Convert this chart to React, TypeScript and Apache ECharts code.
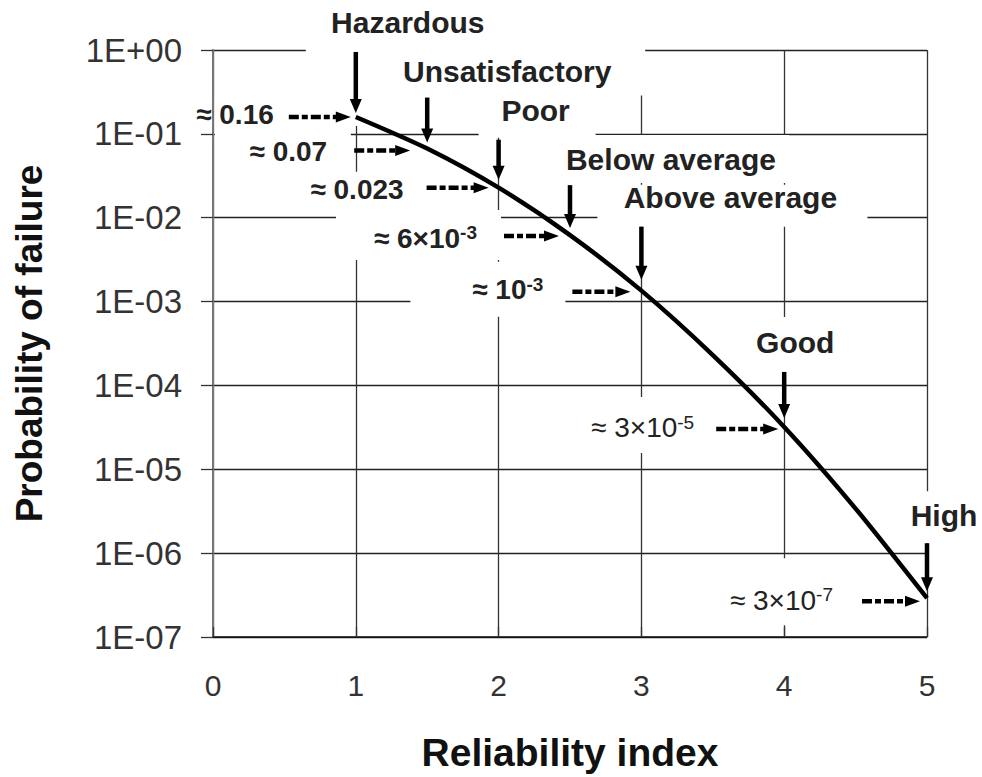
import React, { useEffect, useRef } from 'react';
import * as echarts from 'echarts';

// ---- data ----
const betaValues = [1, 1.5, 2, 2.5, 3, 3.5, 4, 4.5, 5];
const failureProbabilities = [0.159, 0.0668, 0.0228, 0.0062, 0.00135, 0.00023, 0.000032, 0.0000034, 0.00000029];
const xTickLabels = ['0', '1', '2', '3', '4', '5'];
const yTickLabels = ['1E-07', '1E-06', '1E-05', '1E-04', '1E-03', '1E-02', '1E-01', '1E+00'];
const performanceLevels = ['Hazardous', 'Unsatisfactory', 'Poor', 'Below average', 'Above average', 'Good', 'High'];
const levelBetas = [1, 1.5, 2, 2.5, 3, 4, 5];
const approxMantissa = ['≈ 0.16', '≈ 0.07', '≈ 0.023', '≈ 6×10', '≈ 10', '≈ 3×10', '≈ 3×10'];
const approxExponent = ['', '', '', '-3', '-3', '-5', '-7'];

// ---- annotation layout (pixel offsets relative to the pointed curve point) ----
const annotationLayout = [
  { label: [52, -94], v: [-65, -4], h: [-67, -5], hdy: 0, vr: -82, vdy: -2, lb: [-50, -117, 125, 9], vb: [-141, -19, -5, 23], bold: true },
  { label: [80, -77], v: [-51, -6], h: [-73, -17], hdy: 2, vr: -100, vdy: 3, lb: [-35, -109, 218, -53], vb: [-198, -13, -76, 23], bold: true },
  { label: [37, -77], v: [-48, -8], h: [-72, -10], hdy: 0, vr: -95, vdy: 2, lb: [-20, -148, 97, -50], vb: [-210, -16, -80, 24], bold: true },
  { label: [101, -76], v: [-50, -7], h: [-66, -11], hdy: 1, vr: -93, vdy: 3, lb: [-16, -100, 219, -52], vb: [-234, -25, -69, 25], bold: true },
  { label: [89, -93], v: [-64, -11], h: [-69, -11], hdy: 1, vr: -98, vdy: -1, lb: [-44, -106, 226, -64], vb: [-231, -29, -76, 26], bold: true },
  { label: [11, -84], v: [-55, -9], h: [-68, -6], hdy: 2, vr: -90, vdy: 1, lb: [-43, -110, 67, -55], vb: [-223, -30, -83, 26], bold: false },
  { label: [17, -83], v: [-55, -7], h: [-65, -7], hdy: 3, vr: -94, vdy: 2, lb: [-32, -107, 55, -55], vb: [-222, -40, -77, 27], bold: false },
];

const FONT = "'Liberation Sans', Arial, sans-serif";

export default function App() {
  const ref = useRef<HTMLDivElement>(null);

  useEffect(() => {
    if (!ref.current) return;
    const chart = echarts.init(ref.current, null, { renderer: 'svg' });
    const option: any = {
      animation: false,
      backgroundColor: '#ffffff',
      grid: { left: 213, right: 55, top: 50, bottom: 139, containLabel: false },
      xAxis: {
        type: 'value',
        min: 0,
        max: 5,
        interval: 1,
        name: 'Reliability index',
        nameLocation: 'middle',
        nameGap: 96,
        nameTextStyle: { fontFamily: FONT, fontSize: 39, fontWeight: 'bold', color: '#111' },
        axisLine: { show: true, onZero: false, lineStyle: { color: '#111', width: 1.5 } },
        axisTick: { show: true, inside: true, length: 10, lineStyle: { color: '#333', width: 1.3 } },
        axisLabel: {
          fontFamily: FONT, fontSize: 30, color: '#333', margin: 33,
          formatter: (v: number) => xTickLabels[Math.round(v)] ?? '',
        },
        splitLine: { show: true, lineStyle: { color: '#333', width: 1.3 } },
      },
      yAxis: {
        type: 'log',
        logBase: 10,
        min: 1e-7,
        max: 1,
        splitNumber: 7,
        name: 'Probability of failure',
        nameLocation: 'middle',
        nameGap: 165,
        nameRotate: 90,
        nameTextStyle: { fontFamily: FONT, fontSize: 37, fontWeight: 'bold', color: '#111' },
        axisLine: { show: true, lineStyle: { color: '#777', width: 2 } },
        axisTick: { show: true, inside: false, length: 12, lineStyle: { color: '#333', width: 1.3 } },
        minorTick: { show: false },
        axisLabel: {
          fontFamily: FONT, fontSize: 33, color: '#333', margin: 31,
          formatter: (v: number) => yTickLabels[Math.round(Math.log10(v)) + 7] ?? '',
        },
        splitLine: { show: true, lineStyle: { color: '#222', width: 1.3 } },
      },
      series: [
        {
          type: 'line',
          z: 5,
          smooth: 0.25,
          showSymbol: false,
          symbol: 'none',
          lineStyle: { color: '#000', width: 4.5 },
          data: betaValues.map((b, i) => [b, failureProbabilities[i]]),
        },
      ],
    };
    chart.setOption(option);

    const graphics: any[] = [];
    levelBetas.forEach((b, i) => {
      const idx = betaValues.indexOf(b);
      const p = failureProbabilities[idx];
      const pt = chart.convertToPixel({ gridIndex: 0 }, [b, p]) as number[];
      const px = pt[0];
      const py = pt[1];
      const L = annotationLayout[i];

      // white boxes that hide the grid behind the notes
      graphics.push({
        type: 'rect', z: 3, silent: true,
        shape: { x: px + L.lb[0], y: py + L.lb[1], width: L.lb[2] - L.lb[0], height: L.lb[3] - L.lb[1] },
        style: { fill: '#fff' },
      });
      graphics.push({
        type: 'rect', z: 3, silent: true,
        shape: { x: px + L.vb[0], y: py + L.vb[1], width: L.vb[2] - L.vb[0], height: L.vb[3] - L.vb[1] },
        style: { fill: '#fff' },
      });

      // vertical solid arrow
      const vTop = py + L.v[0];
      const vTip = py + L.v[1];
      graphics.push({
        type: 'line', z: 10,
        shape: { x1: px, y1: vTop, x2: px, y2: vTip - 10 },
        style: { stroke: '#000', lineWidth: 4.5 },
      });
      graphics.push({
        type: 'polygon', z: 10,
        shape: { points: [[px - 6, vTip - 14], [px + 6, vTip - 14], [px, vTip]] },
        style: { fill: '#000' },
      });

      // horizontal dashed arrow
      const hy = py + L.hdy;
      const hStart = px + L.h[0];
      const hTip = px + L.h[1];
      graphics.push({
        type: 'line', z: 10,
        shape: { x1: hStart, y1: hy, x2: hTip - 10, y2: hy },
        style: { stroke: '#000', lineWidth: 4.5, lineDash: [10, 3, 6, 3] },
      });
      graphics.push({
        type: 'polygon', z: 10,
        shape: { points: [[hTip - 15, hy - 5.5], [hTip - 15, hy + 5.5], [hTip, hy]] },
        style: { fill: '#000' },
      });

      // performance level label
      graphics.push({
        type: 'text', z: 11,
        x: px + L.label[0], y: py + L.label[1],
        style: {
          text: performanceLevels[i],
          fontFamily: FONT, fontSize: 30, fontWeight: 'bold', fill: '#222',
          align: 'center', verticalAlign: 'middle',
        },
      });

      // approximate value label
      const exp = approxExponent[i];
      const txt = exp ? `{a|${approxMantissa[i]}}{s|${exp}}` : `{a|${approxMantissa[i]}}`;
      graphics.push({
        type: 'text', z: 11,
        x: px + L.vr, y: py + L.vdy,
        style: {
          text: txt,
          fontFamily: FONT,
          align: 'right', verticalAlign: 'middle',
          fill: '#222',
          rich: {
            a: { fontFamily: FONT, fontSize: 28, fontWeight: L.bold ? 'bold' : 'normal', fill: '#222', lineHeight: 30 },
            s: { fontFamily: FONT, fontSize: 19, fontWeight: L.bold ? 'bold' : 'normal', fill: '#222', verticalAlign: 'top', lineHeight: 30 },
          },
        },
      });
    });
    chart.setOption({ graphic: graphics });

    return () => chart.dispose();
  }, []);

  return (
    <div
      ref={ref}
      style={{ position: 'fixed', left: 0, top: 0, width: 982, height: 777, background: '#fff' }}
    />
  );
}
